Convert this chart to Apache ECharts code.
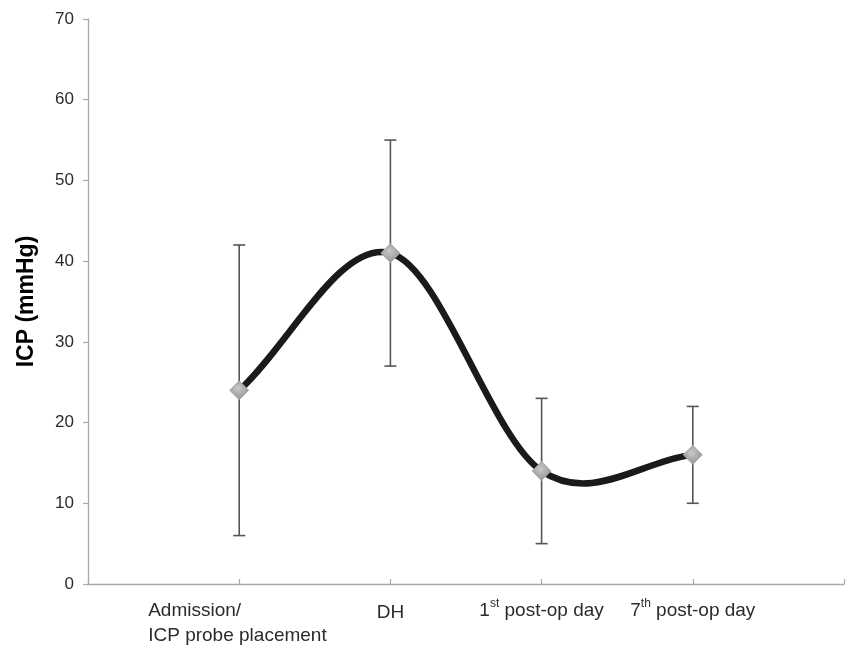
<!DOCTYPE html>
<html>
<head>
<meta charset="utf-8">
<script src="https://cdn.jsdelivr.net/npm/echarts@6/dist/echarts.min.js"></script>
<style>
html,body{margin:0;padding:0;background:#fff;}
#chart{width:847px;height:645px;}
</style>
</head>
<body>
<div id="chart"></div>
<script>
// ---- data ----
var categories = ['{t|Admission/}\n{t|ICP probe placement}', '{d|DH}', '{n|1}{s|st}{n| post-op day}', '{n|7}{s|th}{n| post-op day}'];
var xPositions = [1, 2, 3, 4];
var means = [24, 41, 14, 16];
var lower = [6, 27, 5, 10];
var upper = [42, 55, 23, 22];
var yTicks = [0, 10, 20, 30, 40, 50, 60, 70];

var chart = echarts.init(document.getElementById('chart'), null, {renderer: 'canvas'});

var meanData = xPositions.map(function (x, i) { return [x, means[i]]; });
var errData = xPositions.map(function (x, i) { return [x, lower[i], upper[i]]; });

function smoothPath(api) {
  var pts = meanData.map(function (d) { return api.coord(d); });
  var n = pts.length;
  function get(i) {
    if (i < 0) return [2 * pts[0][0] - pts[1][0], 2 * pts[0][1] - pts[1][1]];
    if (i >= n) return [2 * pts[n - 1][0] - pts[n - 2][0], 2 * pts[n - 1][1] - pts[n - 2][1]];
    return pts[i];
  }
  var d = 'M' + pts[0][0] + ' ' + pts[0][1];
  for (var i = 0; i < n - 1; i++) {
    var p0 = get(i - 1), p1 = get(i), p2 = get(i + 1), p3 = get(i + 2);
    var c1 = [p1[0] + (p2[0] - p0[0]) / 6, p1[1] + (p2[1] - p0[1]) / 6];
    var c2 = [p2[0] - (p3[0] - p1[0]) / 6, p2[1] - (p3[1] - p1[1]) / 6];
    d += ' C' + c1[0] + ' ' + c1[1] + ' ' + c2[0] + ' ' + c2[1] + ' ' + p2[0] + ' ' + p2[1];
  }
  return d;
}

var FF = 'Liberation Sans, Arial, sans-serif';
var TC = '#2b2b2b';

var option = {
  backgroundColor: '#ffffff',
  animation: false,
  grid: {left: 88, right: 2, top: 19, bottom: 61, containLabel: false},
  xAxis: {
    type: 'value',
    min: 0,
    max: 5,
    interval: 1,
    splitLine: {show: false},
    axisLine: {show: true, onZero: false, lineStyle: {color: '#a8a8a8', width: 1.3}},
    axisTick: {show: true, inside: true, length: 5, lineStyle: {color: '#a8a8a8', width: 1.2}},
    axisLabel: {
      margin: 14,
      color: TC,
      fontFamily: FF,
      fontSize: 19,
      showMinLabel: true,
      showMaxLabel: true,
      formatter: function (v) {
        var idx = xPositions.indexOf(v);
        return idx >= 0 ? categories[idx] : '';
      },
      rich: {
        t: {fontSize: 19, width: 182, align: 'left', lineHeight: 25, color: TC, fontFamily: FF},
        d: {fontSize: 19, lineHeight: 25, padding: [5, 0, 0, 0], color: TC, fontFamily: FF},
        n: {fontSize: 19, lineHeight: 25, color: TC, fontFamily: FF},
        s: {fontSize: 12, lineHeight: 25, verticalAlign: 'top', padding: [0, 0, 9, 0], color: TC, fontFamily: FF}
      }
    }
  },
  yAxis: {
    type: 'value',
    min: 0,
    max: 70,
    interval: 10,
    name: 'ICP (mmHg)',
    nameLocation: 'middle',
    nameGap: 50,
    nameTextStyle: {fontSize: 23, fontWeight: 'bold', color: '#000', fontFamily: FF},
    splitLine: {show: false},
    axisLine: {show: true, lineStyle: {color: '#a8a8a8', width: 1.3}},
    axisTick: {show: true, length: 5, lineStyle: {color: '#a8a8a8', width: 1.2}},
    axisLabel: {
      margin: 14,
      color: TC,
      fontSize: 17,
      fontFamily: FF,
      formatter: function (v) { return yTicks.indexOf(v) >= 0 ? String(v) : ''; }
    }
  },
  series: [
    {
      type: 'custom',
      name: 'error',
      z: 2,
      data: errData,
      renderItem: function (params, api) {
        var x = api.value(0);
        var lo = api.coord([x, api.value(1)]);
        var hi = api.coord([x, api.value(2)]);
        var hw = 6;
        var st = {stroke: '#555555', lineWidth: 1.6};
        return {
          type: 'group',
          children: [
            {type: 'line', shape: {x1: lo[0], y1: lo[1], x2: hi[0], y2: hi[1]}, style: st},
            {type: 'line', shape: {x1: lo[0] - hw, y1: lo[1], x2: lo[0] + hw, y2: lo[1]}, style: st},
            {type: 'line', shape: {x1: hi[0] - hw, y1: hi[1], x2: hi[0] + hw, y2: hi[1]}, style: st}
          ]
        };
      }
    },
    {
      type: 'custom',
      name: 'curve',
      z: 3,
      data: [[xPositions[0], means[0]]],
      renderItem: function (params, api) {
        return {
          type: 'path',
          shape: {pathData: smoothPath(api)},
          style: {fill: 'none', stroke: '#1a1a1a', lineWidth: 6.5, lineCap: 'round', lineJoin: 'round'}
        };
      }
    },
    {
      type: 'scatter',
      name: 'mean',
      z: 4,
      symbol: 'diamond',
      symbolSize: [19, 19],
      data: meanData,
      itemStyle: {
        color: new echarts.graphic.RadialGradient(0.45, 0.4, 0.75, [
          {offset: 0, color: '#c8c8c8'},
          {offset: 1, color: '#858585'}
        ]),
        borderColor: '#aaaaaa',
        borderWidth: 1,
        opacity: 1
      }
    }
  ]
};
chart.setOption(option);
</script>
</body>
</html>
